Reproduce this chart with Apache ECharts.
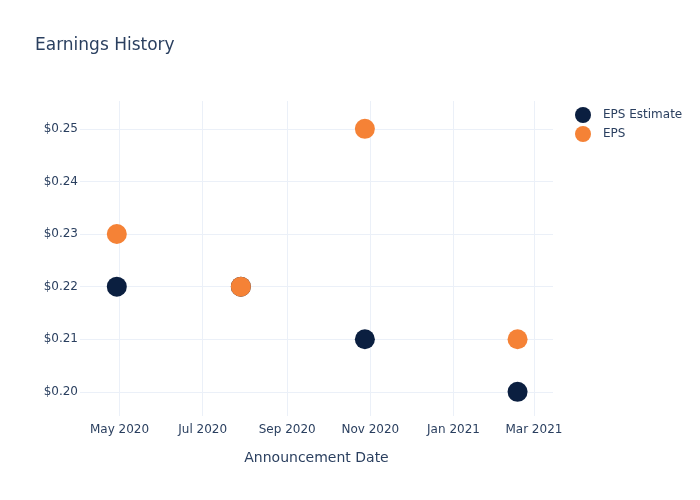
<!DOCTYPE html>
<html>
<head>
<meta charset="utf-8">
<script src="https://cdn.jsdelivr.net/npm/echarts@6/dist/echarts.min.js"></script>
<style>html,body{margin:0;padding:0;background:#fff}#c{width:700px;height:500px}</style>
</head>
<body>
<div id="c"></div>
<script>
const dates = ['2020-04-29', '2020-07-29', '2020-10-28', '2021-02-17'];
const epsEstimate = [0.22, 0.22, 0.21, 0.20];
const eps = [0.23, 0.22, 0.25, 0.21];
const xTicks = ['2020-05-01', '2020-07-01', '2020-09-01', '2020-11-01', '2021-01-01', '2021-03-01'];
const yTicks = [0.20, 0.21, 0.22, 0.23, 0.24, 0.25];
const monthNames = ['Jan','Feb','Mar','Apr','May','Jun','Jul','Aug','Sep','Oct','Nov','Dec'];

const ts = s => { const [y,m,d] = s.split('-').map(Number); return Date.UTC(y, m-1, d); };
const text = '#2a3f5f';
const gridColor = '#ebf0f8';
const font = '"DejaVu Sans", sans-serif';

const chart = echarts.init(document.getElementById('c'));
chart.setOption({
  backgroundColor: '#fff',
  textStyle: { fontFamily: font },
  title: {
    text: 'Earnings History', left: 30, top: 32,
    textStyle: { fontSize: 17, fontWeight: 'normal', color: text, fontFamily: font }
  },
  legend: {
    orient: 'vertical', left: 570, top: 102, itemGap: 3,
    icon: 'circle', itemWidth: 30, itemHeight: 16,
    textStyle: { fontSize: 12, color: text, fontFamily: font },
    data: ['EPS Estimate', 'EPS']
  },
  grid: { left: 80, right: 147, top: 101, bottom: 84, containLabel: false },
  xAxis: {
    type: 'value',
    min: ts('2020-04-02'), max: ts('2021-03-15'),
    name: 'Announcement Date', nameLocation: 'middle', nameGap: 35,
    nameTextStyle: { fontSize: 14, color: text, fontFamily: font },
    axisLine: { show: false }, axisTick: { show: false, customValues: xTicks.map(ts) },
    axisLabel: {
      customValues: xTicks.map(ts), color: text, fontSize: 12, margin: 8, fontFamily: font,
      formatter: v => { const d = new Date(v); return monthNames[d.getUTCMonth()] + ' ' + d.getUTCFullYear(); }
    },
    splitLine: { show: true, lineStyle: { color: gridColor, width: 1 } }
  },
  yAxis: {
    type: 'value', min: 0.1954, max: 0.2553,
    axisLine: { show: false }, axisTick: { show: false, customValues: yTicks },
    axisLabel: { customValues: yTicks, color: text, fontSize: 12, margin: 2, fontFamily: font, formatter: v => '$' + v.toFixed(2) },
    splitLine: { show: true, lineStyle: { color: gridColor, width: 1 } }
  },
  series: [
    { name: 'EPS Estimate', type: 'scatter', symbolSize: 20, itemStyle: { color: '#0b1f40', opacity: 1 },
      data: dates.map((d, i) => [ts(d), epsEstimate[i]]) },
    { name: 'EPS', type: 'scatter', symbolSize: 20, itemStyle: { color: '#f58236', opacity: 1 },
      data: dates.map((d, i) => [ts(d), eps[i]]) }
  ]
});
</script>
</body>
</html>
